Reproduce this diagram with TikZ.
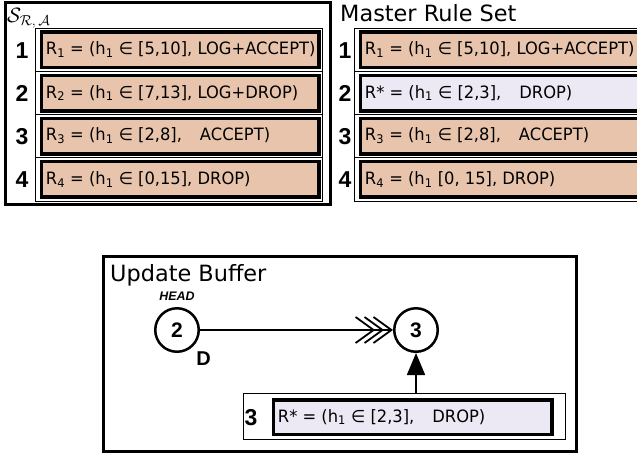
\documentclass[tikz,border=0pt]{standalone}
\usepackage{fontspec}
\setmainfont{DejaVu Sans}
\newfontfamily\rulefont[FakeStretch=0.96]{DejaVu Sans}
\newfontfamily\digitfont{Liberation Sans}
\usetikzlibrary{arrows.meta}

\definecolor{rulefill}{RGB}{232,196,172}
\definecolor{newfill}{RGB}{236,232,244}

\tikzset{
  rowframe/.style={draw, line width=0.9pt},
  rulebox/.style={draw, line width=3.5pt, fill=rulefill, inner sep=0pt,
    minimum height=35.5pt, anchor=west},
  newbox/.style={rulebox, fill=newfill},
  ruletext/.style={anchor=west, inner sep=0pt, xshift=6pt,
    font=\rulefont\fontsize{17}{19}\selectfont},
  rulenum/.style={inner sep=0pt, font=\digitfont\fontsize{23}{25}\selectfont\bfseries},
  heading/.style={anchor=base west, inner sep=0pt,
    font=\fontsize{22.4}{26}\selectfont},
  setframe/.style={draw, line width=3pt},
  bufnode/.style={circle, draw, line width=2.5pt, minimum size=43.5pt,
    inner sep=0pt, font=\digitfont\fontsize{21}{23}\selectfont\bfseries},
  nextlink/.style={line width=1.8pt,
    -{Straight Barb[length=18pt,width=26pt,sep=-11.5pt]
      Straight Barb[length=18pt,width=26pt,sep=-11.5pt]
      Straight Barb[length=18pt,width=26pt]}},
  insertlink/.style={line width=1.8pt, -{Triangle[length=22pt,width=18pt]}},
}

\begin{document}
\begin{tikzpicture}[x=1pt,y=-1pt]
\useasboundingbox (0,0) rectangle (637,459);
\begin{scope}
\clip (0,0) rectangle (637,459);
\fill[white] (0,0) rectangle (637,459);

% ---- rule set S_{R,A} ----
\draw[setframe] (5.5,2.5) rectangle (330.5,204.5);
\node[anchor=base west, inner sep=0pt, font=\fontsize{22}{24}\selectfont]
  (sra) at (7,22) {$\mathcal{S}_{\mathcal{R},\,\mathcal{A}}$};

% thin frames around each rule slot
\foreach \top/\bot in {28/71.5, 71.5/114.5, 114.5/157.5, 157.5/201}{
  \draw[rowframe] (35,\top) rectangle (322,\bot);
  \draw[rowframe] (354,\top) rectangle (700,\bot);
}

\node[rulebox, minimum width=277.5pt] (L1) at (39.75,49.75) {};
\node[rulebox, minimum width=277.5pt] (L2) at (39.75,93) {};
\node[rulebox, minimum width=277.5pt] (L3) at (39.75,136) {};
\node[rulebox, minimum width=277.5pt] (L4) at (39.75,179.25) {};
\node[ruletext] at (L1.west) {R\textsubscript{1} = (h\textsubscript{1} ∈ [5,10], LOG+ACCEPT)};
\node[ruletext] at (L2.west) {R\textsubscript{2} = (h\textsubscript{1} ∈ [7,13], LOG+DROP)};
\node[ruletext] at (L3.west) {R\textsubscript{3} = (h\textsubscript{1} ∈ [2,8],\hspace{0.75em} ACCEPT)};
\node[ruletext] at (L4.west) {R\textsubscript{4} = (h\textsubscript{1} ∈ [0,15], DROP)};
\node[rulenum] (ln1) at (22,50.5) {1};
\node[rulenum] (ln2) at (22,93.75) {2};
\node[rulenum] (ln3) at (22,136.75) {3};
\node[rulenum] (ln4) at (22,180) {4};

% ---- master rule set ----
\node[heading] (master) at (340,21) {Master Rule Set};
\node[rulebox, minimum width=400pt] (M1) at (358.75,49.75) {};
\node[newbox, minimum width=400pt] (M2) at (358.75,93) {};
\node[rulebox, minimum width=400pt] (M3) at (358.75,136) {};
\node[rulebox, minimum width=400pt] (M4) at (358.75,179.25) {};
\node[ruletext] at (M1.west) {R\textsubscript{1} = (h\textsubscript{1} ∈ [5,10], LOG+ACCEPT)};
\node[ruletext] at (M2.west) {R* = (h\textsubscript{1} ∈ [2,3],\hspace{0.75em} DROP)};
\node[ruletext] at (M3.west) {R\textsubscript{3} = (h\textsubscript{1} ∈ [2,8],\hspace{0.75em} ACCEPT)};
\node[ruletext] at (M4.west) {R\textsubscript{4} = (h\textsubscript{1} [0, 15], DROP)};
\node[rulenum] (mn1) at (345,50.5) {1};
\node[rulenum] (mn2) at (345,93.75) {2};
\node[rulenum] (mn3) at (345,136.75) {3};
\node[rulenum] (mn4) at (345,180) {4};

% ---- update buffer ----
\draw[setframe] (103.5,256.5) rectangle (576.5,451.5);
\node[heading] (upd) at (110,281) {Update Buffer};

\node[bufnode] (c2) at (177,330) {2};
\node[bufnode] (c3) at (416,330) {3};
\node[inner sep=0pt, font=\digitfont\fontsize{12.4}{13}\selectfont\bfseries\itshape]
  (head) at (177,296) {HEAD};
\node[inner sep=0pt, font=\digitfont\fontsize{20}{22}\selectfont\bfseries]
  (dmark) at (203.5,359) {D};

\draw[rowframe] (243,393) rectangle (565,439);
\coordinate (bufrow) at (404,393);
\node[newbox, minimum width=278.5pt, minimum height=34.5pt] (B3) at (271.75,417) {};
\node[ruletext] at (B3.west) {R* = (h\textsubscript{1} ∈ [2,3],\hspace{0.75em} DROP)};
\node[rulenum] (bn3) at (251,417.5) {3};

\draw[nextlink] (c2) -- (c3);
\draw[insertlink] (c3 |- bufrow) -- (c3.south);
\end{scope}
\end{tikzpicture}
\end{document}
